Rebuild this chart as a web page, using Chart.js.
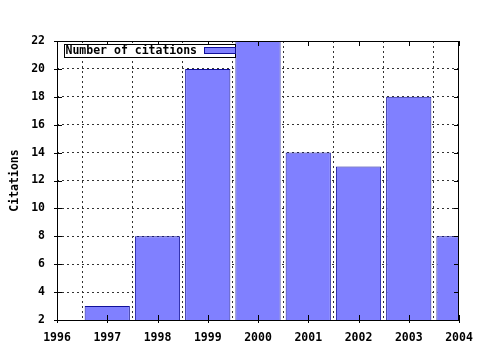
<!DOCTYPE html>
<html>
<head>
<meta charset="utf-8">
<script src="https://cdn.jsdelivr.net/npm/chart.js@4.4.1/dist/chart.umd.min.js"></script>
<style>
  html, body { margin: 0; padding: 0; background: #fff; }
  #wrap { width: 480px; height: 350px; }
</style>
</head>
<body>
<div id="wrap"><canvas id="graficoCitacoes"></canvas></div>
<script>
const years = [1997, 1998, 1999, 2000, 2001, 2002, 2003, 2004]
const citations = [3, 8, 20, 22, 14, 13, 18, 8]
const seriesLabel = 'Number of citations'
const yTitle = 'Citations'

const fontFamily = '"DejaVu Sans Mono", "Liberation Mono", monospace'
const fontSize = 11.5
const barFill = '#8080ff'
const barEdge = '#10109a'

// gnuplot-ish frame: box all round, inward ticks, legend in the top left corner
const framePlugin = {
  id: 'frame',
  afterDatasetsDraw(chart) {
    const ctx = chart.ctx
    const a = chart.chartArea
    const xs = chart.scales.x
    const ys = chart.scales.y
    ctx.save()
    ctx.strokeStyle = '#000'
    ctx.lineWidth = 1
    ctx.setLineDash([])
    ctx.strokeRect(Math.round(a.left) + 0.5, Math.round(a.top) + 0.5,
      Math.round(a.right - a.left) - 1, Math.round(a.bottom - a.top))

    ctx.beginPath()
    xs.ticks.forEach(t => {
      const px = Math.round(xs.getPixelForValue(t.value)) + 0.5
      ctx.moveTo(px, a.bottom + 3); ctx.lineTo(px, a.bottom - 5)
      ctx.moveTo(px, a.top); ctx.lineTo(px, a.top + 5)
    })
    ys.ticks.forEach(t => {
      const py = Math.round(ys.getPixelForValue(t.value)) + 0.5
      ctx.moveTo(a.left - 3, py); ctx.lineTo(a.left + 5, py)
      ctx.moveTo(a.right, py); ctx.lineTo(a.right - 5, py)
    })
    ctx.stroke()

    // legend
    const lx = Math.round(a.left) + 7.5
    const ly = Math.round(a.top) + 3.5
    ctx.fillStyle = '#fff'
    ctx.fillRect(lx, ly, 171, 13)
    ctx.strokeStyle = '#000'
    ctx.strokeRect(lx, ly, 171, 13)
    ctx.fillStyle = '#000'
    ctx.font = 'bold ' + fontSize + 'px ' + fontFamily
    ctx.textBaseline = 'middle'
    ctx.textAlign = 'left'
    ctx.fillText(seriesLabel, lx + 1, ly + 7)
    ctx.fillStyle = barFill
    ctx.fillRect(lx + 140, ly + 3, 31, 6)
    ctx.strokeStyle = barEdge
    ctx.strokeRect(lx + 140, ly + 3, 31, 6)
    ctx.restore()
  }
}

const graphCitations = new Chart(document.querySelector('#graficoCitacoes'), {
  type: 'bar',
  data: {
    datasets: [{
      label: seriesLabel,
      data: years.map((y, i) => ({ x: y, y: citations[i] })),
      backgroundColor: barFill,
      borderColor: barEdge,
      borderWidth: 1,
      borderSkipped: false,
      inflateAmount: 0,
      barPercentage: 0.9,
      categoryPercentage: 1.0,
      clip: 0
    }]
  },
  options: {
    responsive: true,
    maintainAspectRatio: false,
    animation: false,
    layout: { padding: { top: 41, right: 21, left: 0, bottom: 0 } },
    plugins: {
      legend: { display: false },
      tooltip: { enabled: false }
    },
    scales: {
      x: {
        type: 'linear',
        min: 1996,
        max: 2004,
        offset: false,
        border: { display: false, dash: [2, 3] },
        grid: { color: '#333', drawTicks: false, lineWidth: 1 },
        ticks: {
          stepSize: 1,
          padding: 11,
          color: '#000',
          font: { family: fontFamily, size: fontSize, weight: 'bold' },
          callback: v => String(v),
          maxRotation: 0
        },
        afterFit: s => { s.height = 30; s.paddingLeft = 0; s.paddingRight = 0 }
      },
      y: {
        min: 2,
        max: 22,
        border: { display: false, dash: [2, 3] },
        grid: { color: '#333', drawTicks: false, lineWidth: 1 },
        ticks: {
          stepSize: 2,
          padding: 12,
          color: '#000',
          font: { family: fontFamily, size: fontSize, weight: 'bold' }
        },
        title: {
          display: true,
          text: yTitle,
          color: '#000',
          font: { family: fontFamily, size: fontSize, weight: 'bold' },
          padding: { top: 8, bottom: 0 }
        },
        afterFit: s => { s.width = 57; s.paddingTop = 0; s.paddingBottom = 0 }
      }
    }
  },
  plugins: [framePlugin]
})
</script>
</body>
</html>
